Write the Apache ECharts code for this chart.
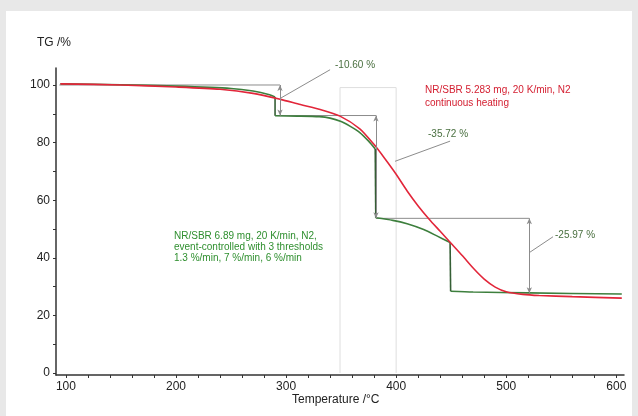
<!DOCTYPE html>
<html><head><meta charset="utf-8">
<script src="https://cdn.jsdelivr.net/npm/echarts@6/dist/echarts.min.js"></script>
<style>html,body{margin:0;padding:0;background:#e8e8e8;}#c{width:638px;height:416px;}</style>
</head><body><div id="c"></div>
<script>
// Continuous heating (red)
const redT  = [95,150,200,240,270,295,313,331,349,367,380,390,400,410,420,430,440,449,460,471,480,490,500,515,530,560,605];
const redTG = [100.4,100.0,99.3,98.5,97.1,95.0,93.2,91.5,89.2,84.8,79.3,74.3,69.0,63.2,58.0,53.4,49.2,45.4,40.8,36.0,32.6,29.8,28.2,27.3,26.9,26.5,26.0];
// Event-controlled (green): three isothermal steps
const greenT  = [95,150,200,250,270,285,290,290,310,330,340,350,358,367,375,381,381.5,397,410,425,437,449,449.5,470,520,605];
const greenTG = [100.4,100.1,99.6,98.8,97.9,96.6,95.8,89.3,89.2,89.0,88.5,87.3,85.7,83.5,80.5,77.8,53.9,53.0,51.8,49.8,47.6,45.3,28.4,28.1,27.8,27.4];
// Tick values
const xLabels = [100,200,300,400,500,600];
const xTicks = [100,120,140,160,180,200,220,240,260,280,300,320,340,360,380,400,420,440,460,480,500,520,540,560,580,600];
const yLabels = [0,20,40,60,80,100];
const yTicks = [0,10,20,30,40,50,60,70,80,90,100];
// Annotation segments (data coordinates)
const annLines = [
  [[94,100],[294.5,100]],
  [[294.5,95.3],[340,105.3]],
  [[290,89.4],[381.7,89.4]],
  [[399,73.5],[449,80.5]],
  [[381.7,53.7],[521,53.7]],
  [[521,41.8],[542.5,47.3]]
];
const annArrows = [
  [[294.5,100],[294.5,89.4]],
  [[381.7,89.4],[381.7,53.7]],
  [[521,53.7],[521,27.7]]
];
const boxLine = [[349,0],[349,99.1],[400,99.1],[400,0]];
const stepLabels = ['-10.60 %','-35.72 %','-25.97 %'];

const zip = (a,b)=>a.map((v,i)=>[v,b[i]]);
const FONT = 'Liberation Sans, Arial, sans-serif';
const green = zip(greenT, greenTG);
// split green into smooth pieces between the isothermal (vertical) drops
const greenBreaks = [];
for (let i=1;i<green.length;i++){ if (green[i][1]-green[i-1][1] < -5) greenBreaks.push(i); }

const series = [];
series.push({type:'line', data: boxLine, symbol:'none', silent:true, lineStyle:{color:'#dedede', width:1}, z:1, animation:false});
annLines.forEach(seg=>series.push({type:'line', data: seg, symbol:'none', silent:true, lineStyle:{color:'#8c8c8c', width:1}, z:2, animation:false, clip:false}));
series.push({type:'line', data:[], markLine:{silent:true, symbol:['arrow','arrow'], symbolSize:[4,6], label:{show:false}, lineStyle:{color:'#8c8c8c', width:1, type:'solid'}, animation:false,
  data: annArrows.map(s=>[{coord:s[0]},{coord:s[1]}])}});
let start = 0;
greenBreaks.concat([green.length]).forEach(b=>{
  series.push({type:'line', data: green.slice(start, b), symbol:'none', smooth:0.25, lineStyle:{color:'#3d7f3d', width:1.6}, z:3, animation:false});
  if (b < green.length) series.push({type:'line', data: [green[b-1], green[b]], symbol:'none', lineStyle:{color:'#355f35', width:1.6}, z:3, animation:false});
  start = b;
});
series.push({type:'line', name:'red', data: zip(redT, redTG), symbol:'none', smooth:0.25, lineStyle:{color:'#e2263a', width:1.6}, z:4, animation:false});

const chart = echarts.init(document.getElementById('c'), null, {renderer:'canvas'});
chart.setOption({
  backgroundColor:'#e8e8e8',
  animation:false,
  grid:{left:56, right:14, top:68, bottom:41},
  xAxis:{type:'value', min:91, max:607,
    axisLine:{show:true, onZero:false, lineStyle:{color:'#333', width:1.5}},
    axisTick:{show:true, customValues:xTicks, length:3, lineStyle:{color:'#333'}},
    axisLabel:{customValues:xLabels, color:'#222', fontSize:12, fontFamily:FONT, margin:6},
    splitLine:{show:false}},
  yAxis:{type:'value', min:-0.7, max:105.9,
    axisLine:{show:true, onZero:false, lineStyle:{color:'#333', width:1.5}},
    axisTick:{show:true, customValues:yTicks, length:3, lineStyle:{color:'#333'}},
    axisLabel:{customValues:yLabels, color:'#222', fontSize:12, fontFamily:FONT, margin:6},
    splitLine:{show:false}},
  graphic:[
    {type:'rect', z:-10, shape:{x:6, y:11, width:626, height:405}, style:{fill:'#ffffff'}, silent:true},
    {type:'text', left:37, top:37, style:{text:'TG /%', font:'12px '+FONT, fill:'#222'}},
    {type:'text', left:292, top:394, style:{text:'Temperature /°C', font:'12px '+FONT, fill:'#222'}},
    {type:'text', left:335, top:60, style:{text:stepLabels[0], font:'10px '+FONT, fill:'#4a7040'}},
    {type:'text', left:428, top:129, style:{text:stepLabels[1], font:'10px '+FONT, fill:'#4a7040'}},
    {type:'text', left:555, top:230, style:{text:stepLabels[2], font:'10px '+FONT, fill:'#4a7040'}},
    {type:'text', left:425, top:84, style:{text:'NR/SBR 5.283 mg, 20 K/min, N2\ncontinuous heating', font:'10px '+FONT, fill:'#d42032', lineHeight:13}},
    {type:'text', left:174, top:231, style:{text:'NR/SBR 6.89 mg, 20 K/min, N2,\nevent-controlled with 3 thresholds\n1.3 %/min, 7 %/min, 6 %/min', font:'10px '+FONT, fill:'#2f8f2f', lineHeight:11}}
  ],
  series: series
});
</script></body></html>
